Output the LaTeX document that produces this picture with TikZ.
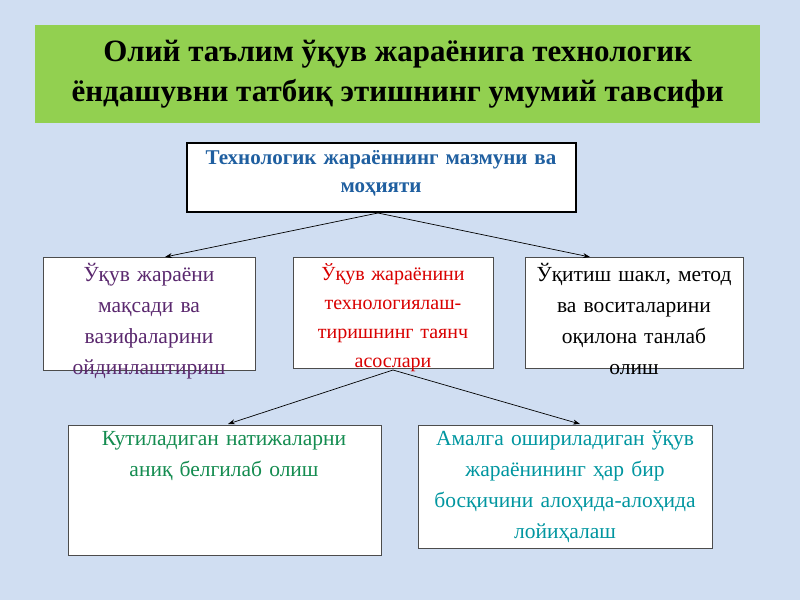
\documentclass[tikz,border=0pt]{standalone}
\usepackage{fontspec}
\setmainfont{Liberation Serif}
\usetikzlibrary{arrows.meta}
\definecolor{bgc}{RGB}{208,222,242}
\begin{document}
\begin{tikzpicture}[x=1pt,y=-1pt,
 box/.style={draw=black!70,fill=white,line width=0.8pt},
 txt/.style={anchor=north,align=center,inner sep=0pt,font=\fontsize{21.5}{31}\selectfont},
 arr/.style={-{Stealth[length=7pt,width=5pt]},line width=0.7pt}]
\useasboundingbox (0,0) rectangle (800,600);
\fill[bgc] (0,0) rectangle (800,600);
\node[fill={rgb,255:red,146;green,208;blue,80},minimum width=725pt,minimum height=98pt,anchor=north west,
 font=\bfseries\fontsize{31}{40}\selectfont,align=center] (title) at (35,25)
 {Олий таълим ўқув жараёнига технологик\\ ёндашувни татбиқ этишнинг умумий тавсифи};
\draw[fill=white,line width=2.5pt] (187,143) rectangle (576,212);
\node[txt,font=\bfseries\fontsize{21}{28}\selectfont,text={rgb,255:red,31;green,95;blue,160},text width=380pt] (b1) at (381,150)
 {Технологик жараённинг мазмуни ва\\ моҳияти};
\coordinate (p1) at (378,213);
\draw[box] (43,257) rectangle (255,370);
\node[txt,text={rgb,255:red,90;green,40;blue,110},text width=205pt] (b2) at (149,263) {Ўқув жараёни\\ мақсади ва\\ вазифаларини\\ ойдинлаштириш};
\draw[box] (293,257) rectangle (493,368);
\node[txt,text=red!85!black,text width=195pt,font=\fontsize{20}{29}\selectfont] (b3) at (393,263) {Ўқув жараёнини\\ технологиялаш-\\ тиришнинг таянч\\ асослари};
\draw[box] (525,257) rectangle (743,368);
\node[txt,text=black,text width=215pt] (b4) at (634,263) {Ўқитиш шакл, метод\\ ва воситаларини\\ оқилона танлаб\\ олиш};
\draw[box] (68,425) rectangle (381,555);
\node[txt,text={rgb,255:red,20;green,140;blue,80},text width=305pt] (b5) at (224,431) {Кутиладиган натижаларни\\ аниқ белгилаб олиш};
\draw[box] (418,425) rectangle (712,548);
\node[txt,text={rgb,255:red,0;green,150;blue,160},text width=290pt] (b6) at (565,431) {Амалга ошириладиган ўқув\\ жараёнининг ҳар бир\\ босқичини алоҳида-алоҳида\\ лойиҳалаш};
\coordinate (t2) at (165,257);
\coordinate (t4) at (590,257);
\coordinate (p3) at (393,370);
\coordinate (t5) at (228,424);
\coordinate (t6) at (580,424);
\draw[arr] (p1) -- (t2);
\draw[arr] (p1) -- (t4);
\draw[arr] (p3) -- (t5);
\draw[arr] (p3) -- (t6);
\end{tikzpicture}
\end{document}
